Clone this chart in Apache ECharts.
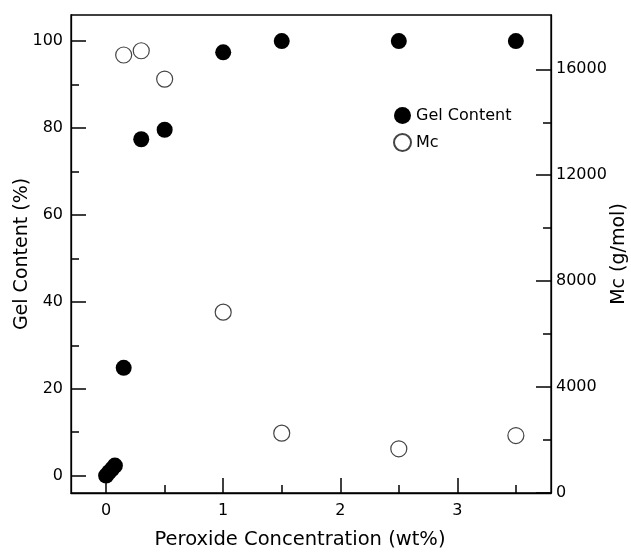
<!DOCTYPE html>
<html>
<head>
<meta charset="utf-8">
<script src="https://cdn.jsdelivr.net/npm/echarts@6/dist/echarts.min.js"></script>
<style>
  html, body { margin: 0; padding: 0; background: #fff; }
  #chart { width: 631px; height: 552px; }
</style>
</head>
<body>
<div id="chart"></div>
<script>
// peroxide concentration (wt%)
var gelX = [0, 0.025, 0.05, 0.075, 0.15, 0.3, 0.5, 1, 1.5, 2.5, 3.5];
var gelY = [0, 0.8, 1.5, 2.3, 24.8, 77.4, 79.6, 97.4, 100, 100, 100];
var mcX = [0.15, 0.3, 0.5, 1, 1.5, 2.5, 3.5];
var mcY = [16540, 16700, 15630, 6830, 2260, 1670, 2170];

var xTicks = [0, 1, 2, 3];
var xMinor = [0.5, 1.5, 2.5, 3.5];
var gelTicks = [0, 20, 40, 60, 80, 100];
var gelMinor = [10, 30, 50, 70, 90];
var mcTicks = [0, 4000, 8000, 12000, 16000];
var mcMinor = [2000, 6000, 10000, 14000];

function pairs(xs, ys) {
  var out = [];
  for (var i = 0; i < xs.length; i++) out.push([xs[i], ys[i]]);
  return out;
}

var font = 'DejaVu Sans';
var lineSt = { color: '#000', width: 1.3 };

function minorAxis(base, vals) {
  var a = Object.assign({}, base);
  a.axisLine = { show: false, onZero: false };
  a.axisLabel = { show: false };
  a.name = '';
  a.axisTick = { show: true, inside: true, length: 8, customValues: vals, lineStyle: { color: '#000', width: 1.5 } };
  a.splitLine = { show: false };
  return a;
}

var xBase = { type: 'value', min: -0.3, max: 3.8, position: 'bottom', splitLine: { show: false } };
var gelBase = { type: 'value', min: -4, max: 106, position: 'left', splitLine: { show: false } };
var mcBase = { type: 'value', min: 0, max: 18050, position: 'right', splitLine: { show: false } };

var chart = echarts.init(document.getElementById('chart'));
chart.setOption({
  animation: false,
  backgroundColor: '#fff',
  textStyle: { fontFamily: font },
  grid: {
    left: 71, right: 80, top: 15, bottom: 59, outerBoundsMode: 'none', containLabel: false,
    show: true, borderColor: '#000', borderWidth: 1.3
  },
  legend: {
    orient: 'vertical', left: 388, top: 102, itemWidth: 17, itemHeight: 17, itemGap: 9,
    textStyle: { fontFamily: font, fontSize: 16, color: '#000' },
    data: [
      { name: 'Gel Content', icon: 'circle' },
      { name: 'Mc', icon: 'circle' }
    ]
  },
  xAxis: [
    Object.assign({}, xBase, {
      name: 'Peroxide Concentration (wt%)', nameLocation: 'middle', nameGap: 37, nameMoveOverlap: false,
      nameTextStyle: { fontFamily: font, fontSize: 19.5, color: '#000', padding: [0, 22, 0, 0] },
      axisLine: { onZero: false, lineStyle: lineSt },
      axisTick: { inside: true, length: 15, customValues: xTicks, lineStyle: { color: '#000', width: 1.5 } },
      axisLabel: { customValues: xTicks, fontSize: 16, color: '#000', margin: 10, fontFamily: font }
    }),
    minorAxis(xBase, xMinor)
  ],
  yAxis: [
    Object.assign({}, gelBase, {
      name: 'Gel Content (%)', nameLocation: 'middle', nameGap: 39, nameRotate: 90, nameMoveOverlap: false,
      nameTextStyle: { fontFamily: font, fontSize: 19, color: '#000' },
      axisLine: { onZero: false, lineStyle: lineSt },
      axisTick: { inside: true, length: 15, customValues: gelTicks, lineStyle: { color: '#000', width: 1.5 } },
      axisLabel: { customValues: gelTicks, fontSize: 16, color: '#000', margin: 8, fontFamily: font }
    }),
    Object.assign({}, mcBase, {
      name: 'Mc (g/mol)', nameLocation: 'middle', nameGap: 59, nameRotate: 90, nameMoveOverlap: false,
      nameTextStyle: { fontFamily: font, fontSize: 19, color: '#000' },
      axisLine: { onZero: false, lineStyle: lineSt },
      axisTick: { inside: true, length: 15, customValues: mcTicks, lineStyle: { color: '#000', width: 1.5 } },
      axisLabel: {
        customValues: mcTicks, fontSize: 16, color: '#000', margin: 5, fontFamily: font,
        formatter: function (v) { return String(v); }
      }
    }),
    minorAxis(gelBase, gelMinor),
    minorAxis(mcBase, mcMinor)
  ],
  series: [
    {
      name: 'Gel Content', type: 'scatter', xAxisIndex: 0, yAxisIndex: 0,
      symbol: 'circle', symbolSize: 16,
      itemStyle: { color: '#000', borderColor: '#000', borderWidth: 0, opacity: 1 },
      data: pairs(gelX, gelY)
    },
    {
      name: 'Mc', type: 'scatter', xAxisIndex: 0, yAxisIndex: 1,
      symbol: 'circle', symbolSize: 16,
      itemStyle: { color: '#fff', borderColor: '#444', borderWidth: 1.2, opacity: 1 },
      data: pairs(mcX, mcY)
    }
  ]
});
</script>
</body>
</html>
